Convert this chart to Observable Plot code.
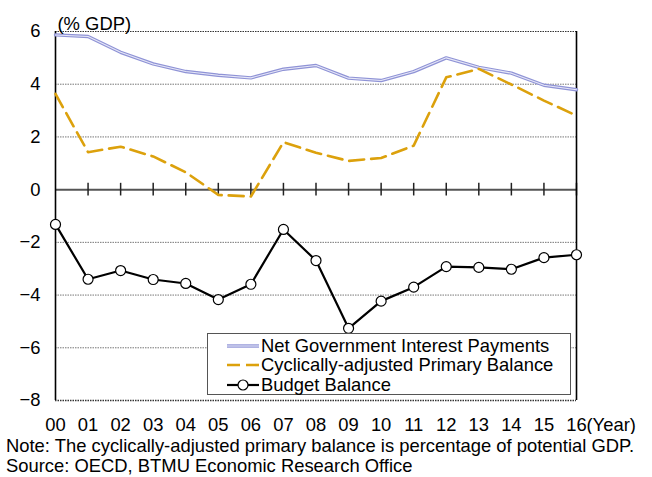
<!DOCTYPE html>
<html>
<head>
<meta charset="utf-8">
<script src="https://cdn.jsdelivr.net/npm/d3@7"></script>
<script src="https://cdn.jsdelivr.net/npm/@observablehq/plot@0.6"></script>
<style>
  body { margin: 0; background: #fff; font-family: "Liberation Sans", Arial, sans-serif; }
  #wrap { position: relative; width: 652px; height: 477px; }
  .note { position: absolute; left: 6px; font-size: 18.4px; line-height: 20px; white-space: nowrap; color: #000; }
  #legend { position: absolute; left: 207px; top: 333px; width: 362px; height: 60px; border: 1px solid #555; background: #fff; font-size: 18.4px; }
  .row { position: absolute; left: 19px; height: 20px; display: flex; align-items: center; white-space: nowrap; }
  .row svg { margin-right: 2px; }
</style>
</head>
<body>
<div id="wrap"></div>
<script>
const yearLabels = ["00","01","02","03","04","05","06","07","08","09","10","11","12","13","14","15","16"];
const netInterest = [5.87, 5.81, 5.21, 4.77, 4.48, 4.34, 4.24, 4.57, 4.71, 4.23, 4.14, 4.48, 5.00, 4.64, 4.42, 3.96, 3.79];
const cyclicalPrimary = [3.63, 1.42, 1.63, 1.26, 0.66, -0.20, -0.26, 1.80, 1.40, 1.09, 1.20, 1.67, 4.26, 4.58, 3.99, 3.38, 2.81];
const budgetBalance = [-1.32, -3.40, -3.07, -3.41, -3.56, -4.17, -3.59, -1.51, -2.69, -5.26, -4.23, -3.70, -2.92, -2.95, -3.02, -2.58, -2.47];
const seriesNames = ["Net Government Interest Payments", "Cyclically-adjusted Primary Balance", "Budget Balance"];
const yTicks = [-8, -6, -4, -2, 0, 2, 4, 6];
const gridValues = [-6, -4, -2, 2, 4];
const yUnit = "(% GDP)";
const xUnit = "(Year)";
const notes = [
  "Note: The cyclically-adjusted primary balance is percentage of potential GDP.",
  "Source: OECD, BTMU Economic Research Office"
];

const idx = d3.range(yearLabels.length);
const rows = idx.map(i => ({i, net: netInterest[i], cyc: cyclicalPrimary[i], bud: budgetBalance[i]}));

const chart = Plot.plot({
  width: 652,
  height: 434,
  marginLeft: 55,
  marginRight: 76,
  marginTop: 31,
  marginBottom: 34,
  style: { fontFamily: "'Liberation Sans', Arial, sans-serif", fontSize: "18.4px", color: "#000", background: "#fff" },
  x: { domain: [0, 16], ticks: idx, tickFormat: i => yearLabels[i], tickSize: 0, tickPadding: 17, label: null },
  y: { domain: [-8, 6], ticks: yTicks, tickSize: 0, tickPadding: 15, label: null },
  marks: [
    Plot.ruleY(gridValues, { stroke: "#777", strokeDasharray: "1.5,1", strokeWidth: 1 }),
    Plot.ruleY([6], { stroke: "#333", strokeDasharray: "1.5,1", strokeWidth: 1.2 }),
    Plot.ruleY([-8], { stroke: "#333", strokeDasharray: "1.5,1", strokeWidth: 1.5 }),
    Plot.ruleY([0], { stroke: "#555", strokeWidth: 2 }),
    Plot.ruleX(idx.slice(1), { x: d => d, y1: -0.24, y2: 0.24, stroke: "#222", strokeWidth: 1.5 }),
    Plot.ruleX([0], { stroke: "#000", strokeWidth: 1.6 }),
    Plot.ruleX([16], { stroke: "#000", strokeWidth: 1.6 }),
    Plot.line(rows, { x: "i", y: "net", stroke: "#8f93d6", strokeWidth: 3.4 }),
    Plot.line(rows, { x: "i", y: "net", stroke: "#e6e7f7", strokeWidth: 1.1 }),
    Plot.line(rows, { x: "i", y: "cyc", stroke: "#dca10c", strokeWidth: 2.6, strokeDasharray: "15,7" }),
    Plot.line(rows, { x: "i", y: "bud", stroke: "#000", strokeWidth: 2.2 }),
    Plot.dot(rows, { x: "i", y: "bud", r: 5, fill: "#fff", stroke: "#000", strokeWidth: 1.2 }),
    Plot.text([yUnit], { frameAnchor: "top-left", dx: 2, dy: -15, textAnchor: "start", fontSize: 18.4 }),
    Plot.text([xUnit], { x: () => 16, frameAnchor: "bottom", dx: 10, dy: 17, lineAnchor: "top", textAnchor: "start", fontSize: 18.4 })
  ]
});

const wrap = document.getElementById("wrap");
chart.style.position = "absolute";
chart.style.left = "0px";
chart.style.top = "0px";
wrap.appendChild(chart);

// legend
const legend = document.createElement("div");
legend.id = "legend";
const swatches = [
  `<svg width="32" height="10"><line x1="0" y1="5" x2="32" y2="5" stroke="#8f93d6" stroke-width="3.4"/><line x1="0" y1="5" x2="32" y2="5" stroke="#e6e7f7" stroke-width="1.1"/></svg>`,
  `<svg width="32" height="10"><line x1="0" y1="5" x2="32" y2="5" stroke="#dca10c" stroke-width="2.6" stroke-dasharray="13,6"/></svg>`,
  `<svg width="32" height="12"><line x1="0" y1="6" x2="32" y2="6" stroke="#000" stroke-width="2.2"/><circle cx="16" cy="6" r="5" fill="#fff" stroke="#000" stroke-width="1.2"/></svg>`
];
const rowTops = [2, 21, 41];
seriesNames.forEach((name, k) => {
  const r = document.createElement("div");
  r.className = "row";
  r.style.top = rowTops[k] + "px";
  r.innerHTML = swatches[k] + `<span>${name}</span>`;
  legend.appendChild(r);
});
wrap.appendChild(legend);

notes.forEach((t, k) => {
  const n = document.createElement("div");
  n.className = "note";
  n.style.top = (436 + 20 * k) + "px";
  n.textContent = t;
  wrap.appendChild(n);
});
</script>
</body>
</html>
